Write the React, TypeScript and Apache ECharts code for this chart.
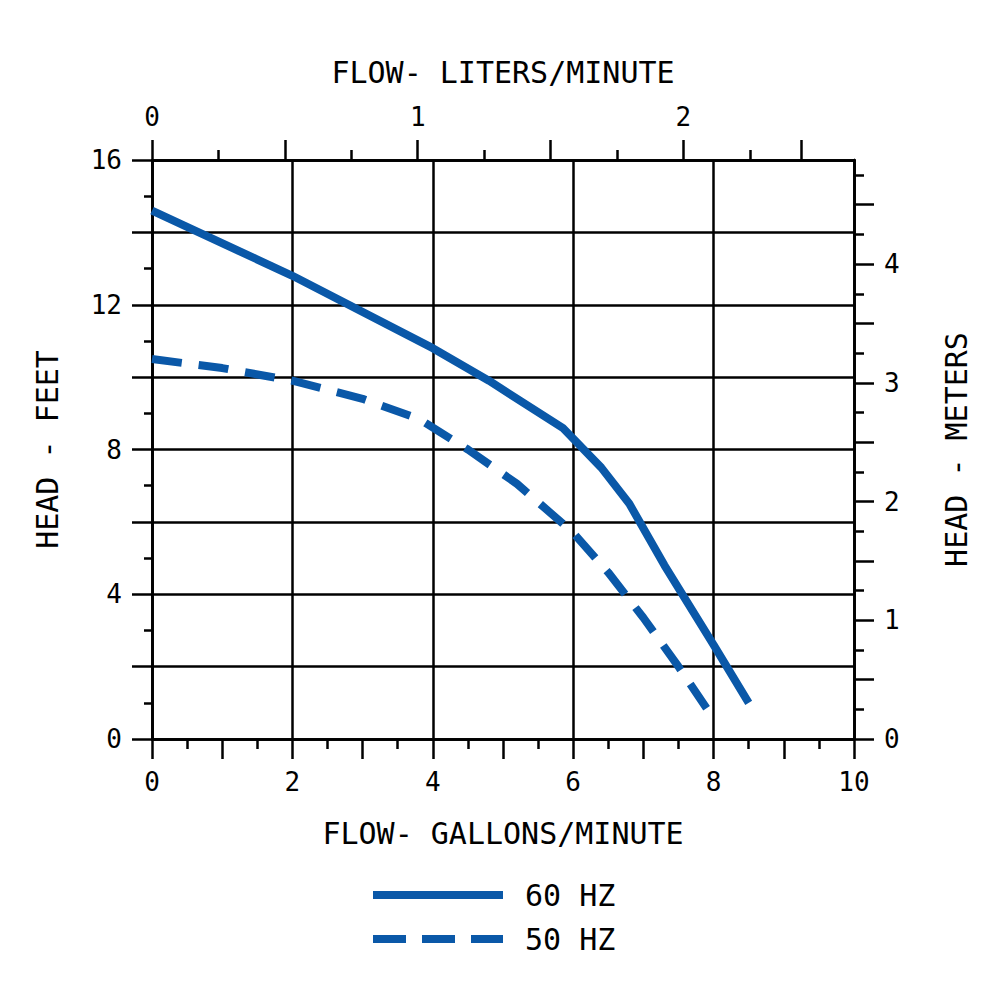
import React, { useEffect, useRef } from 'react';
import * as echarts from 'echarts';

// ---- data ----
const gpm60 = [0, 2, 4, 4.8, 5.85, 6.4, 6.8, 7.3, 8.0, 8.5];
const head60 = [14.6, 12.8, 10.8, 9.9, 8.6, 7.5, 6.5, 4.8, 2.6, 1.0];
const gpm50 = [0, 1, 2, 3, 3.8, 4.5, 5.2, 6.0, 6.5, 7.0, 7.5, 7.9];
const head50 = [10.5, 10.25, 9.9, 9.4, 8.85, 8.0, 7.05, 5.7, 4.6, 3.35, 2.0, 0.85];
const seriesNames = ['60 HZ', '50 HZ'];

const gpmLabels = [0, 2, 4, 6, 8, 10];
const gpmMinorTicks = [0.5, 1.5, 2.5, 3.5, 4.5, 5.5, 6.5, 7.5, 8.5, 9.5];
const feetLabels = [0, 4, 8, 12, 16];
const feetMinorTicks = [1, 3, 5, 7, 9, 11, 13, 15];
const topLabels = [0, 1, 2];
const topMajorTicks = [0, 0.5, 1, 1.5, 2, 2.444];
const topMinorTicks = [0.25, 0.75, 1.25, 1.75, 2.25];
const meterLabels = [0, 1, 2, 3, 4];
const meterMajorTicks = [0, 0.5, 1, 1.5, 2, 2.5, 3, 3.5, 4, 4.5];
const meterMinorTicks = [0.25, 0.75, 1.25, 1.75, 2.25, 2.75, 3.25, 3.75, 4.25, 4.75];

const GPM_MAX = 10;
const FT_MAX = 16;
const TOP_MAX = GPM_MAX / 3.785;
const M_MAX = FT_MAX / 3.2808;

const FONT = 'DejaVu Sans Mono';
const BLUE = '#0a58a8';
const BLACK = '#000';

const lineW = { color: BLACK, width: 2.5 };
const labelStyle = { fontFamily: FONT, fontSize: 26, color: BLACK };
const nameStyle = { fontFamily: FONT, fontSize: 30, color: BLACK };

function tickAxis(position: string, max: number, values: number[], length: number) {
  return {
    type: 'value', position, min: 0, max,
    axisLine: { show: true, onZero: false, lineStyle: lineW },
    axisTick: { show: true, inside: false, length, lineStyle: lineW, customValues: values },
    splitLine: { show: false },
    axisLabel: { show: false },
  };
}

export default function App() {
  const ref = useRef<HTMLDivElement>(null);
  useEffect(() => {
    document.body.style.margin = '0';
    const chart = echarts.init(ref.current!, null, { renderer: 'svg' });
    const option: any = {
      animation: false,
      backgroundColor: '#fff',
      grid: { left: 152, right: 146, top: 160, bottom: 261, containLabel: false, outerBoundsMode: 'none' },
      legend: {
        orient: 'vertical',
        left: 373,
        top: 880,
        padding: 0,
        itemWidth: 130,
        itemHeight: 8,
        itemGap: 14,
        data: [
          { name: seriesNames[0], icon: 'rect' },
          { name: seriesNames[1], icon: 'path://M0,0h33v8h-33z M49,0h33v8h-33z M98,0h32v8h-32z' },
        ],
        textStyle: { ...nameStyle, padding: [0, 0, 0, 17] },
      },
      xAxis: [
        {
          type: 'value', position: 'bottom', min: 0, max: GPM_MAX, interval: 1,
          axisLine: { show: true, onZero: false, lineStyle: lineW },
          axisTick: { show: true, inside: false, length: 20, lineStyle: lineW },
          splitLine: { show: false },
          axisLabel: { ...labelStyle, margin: 30, formatter: (v: number) => (gpmLabels.includes(v) ? String(v) : '') },
          name: 'FLOW- GALLONS/MINUTE', nameLocation: 'middle', nameGap: 79, nameTextStyle: nameStyle,
        },
        {
          type: 'value', position: 'top', min: 0, max: TOP_MAX,
          axisLine: { show: true, onZero: false, lineStyle: lineW },
          axisTick: { show: true, inside: false, length: 20, lineStyle: lineW, customValues: topMajorTicks },
          splitLine: { show: false },
          axisLabel: { ...labelStyle, margin: 30, customValues: topLabels, formatter: (v: number) => String(v) },
          name: 'FLOW- LITERS/MINUTE', nameLocation: 'middle', nameGap: 73, nameTextStyle: nameStyle,
        },
        tickAxis('top', TOP_MAX, topMinorTicks, 10),
        tickAxis('bottom', GPM_MAX, gpmMinorTicks, 10),
        {
          type: 'value', position: 'bottom', min: 0, max: GPM_MAX, interval: 2,
          axisLine: { show: false }, axisTick: { show: false }, axisLabel: { show: false },
          splitLine: { show: true, lineStyle: lineW },
        },
      ],
      yAxis: [
        {
          type: 'value', position: 'left', min: 0, max: FT_MAX, interval: 2,
          axisLine: { show: true, onZero: false, lineStyle: lineW },
          axisTick: { show: true, inside: false, length: 20, lineStyle: lineW },
          splitLine: { show: true, lineStyle: lineW },
          axisLabel: { ...labelStyle, margin: 30, formatter: (v: number) => (feetLabels.includes(v) ? String(v) : '') },
          name: 'HEAD - FEET', nameLocation: 'middle', nameRotate: 90, nameGap: 90, nameTextStyle: nameStyle,
        },
        {
          type: 'value', position: 'right', min: 0, max: M_MAX,
          axisLine: { show: true, onZero: false, lineStyle: lineW },
          axisTick: { show: true, inside: false, length: 20, lineStyle: lineW, customValues: meterMajorTicks },
          splitLine: { show: false },
          axisLabel: { ...labelStyle, margin: 30, customValues: meterLabels, formatter: (v: number) => String(v) },
          name: 'HEAD - METERS', nameLocation: 'middle', nameRotate: 90, nameGap: 87, nameTextStyle: nameStyle,
        },
        tickAxis('right', M_MAX, meterMinorTicks, 10),
        tickAxis('left', FT_MAX, feetMinorTicks, 8),
      ],
      series: [
        {
          name: seriesNames[0], type: 'line', xAxisIndex: 0, yAxisIndex: 0,
          symbol: 'none', showSymbol: false, z: 5,
          lineStyle: { color: BLUE, width: 8, cap: 'butt' },
          itemStyle: { color: BLUE },
          data: gpm60.map((g, i) => [g, head60[i]]),
        },
        {
          name: seriesNames[1], type: 'line', xAxisIndex: 0, yAxisIndex: 0,
          symbol: 'none', showSymbol: false, z: 5,
          lineStyle: { color: BLUE, width: 8, type: [30, 17], cap: 'butt' },
          itemStyle: { color: BLUE },
          data: gpm50.map((g, i) => [g, head50[i]]),
        },
      ],
    };
    chart.setOption(option);
    return () => chart.dispose();
  }, []);
  return <div ref={ref} style={{ width: 1000, height: 1000 }} />;
}
